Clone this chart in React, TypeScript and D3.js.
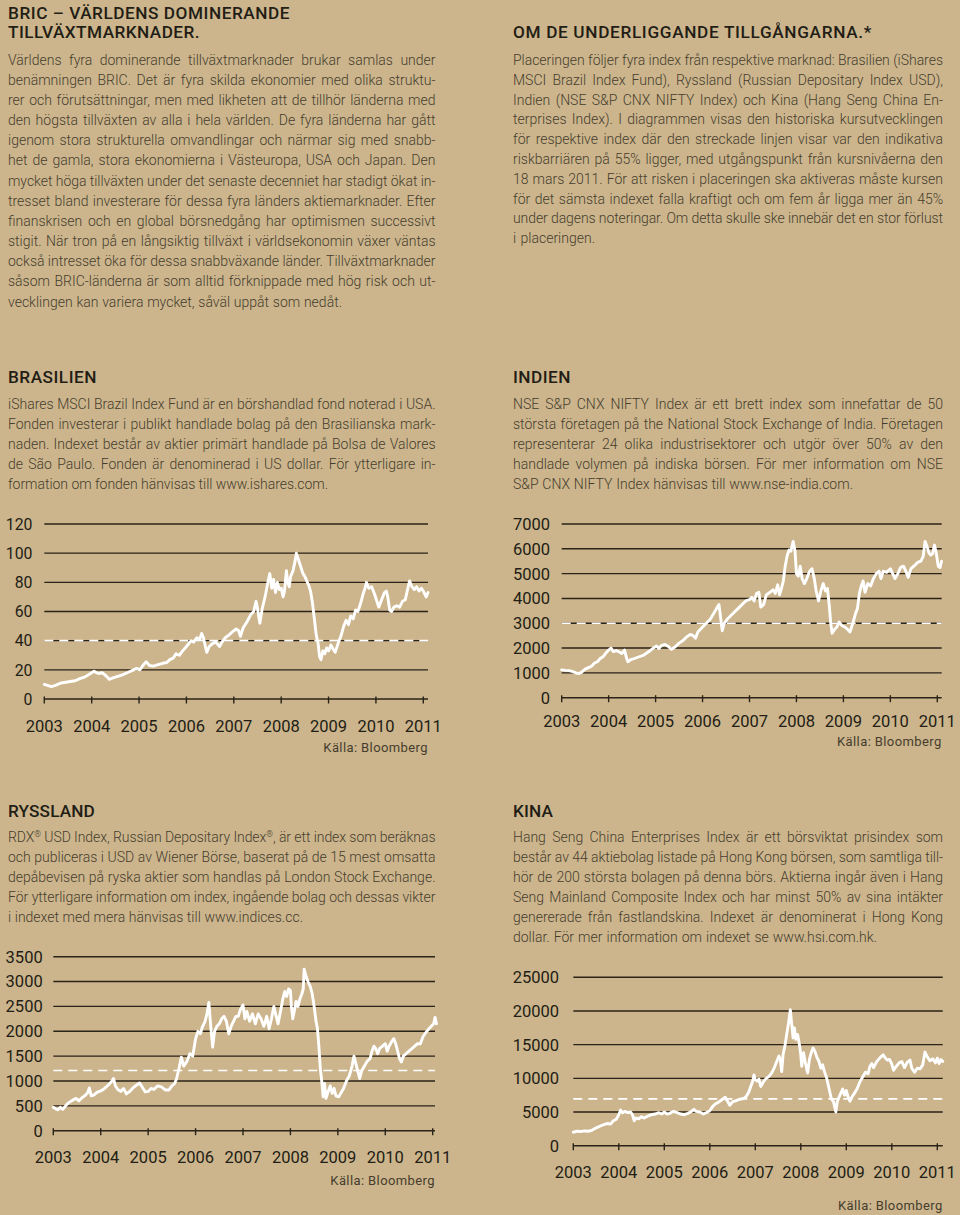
import React from 'react';
import * as d3 from 'd3';

// ---------------- DATA ----------------
const years = [2003, 2004, 2005, 2006, 2007, 2008, 2009, 2010, 2011];
const brazilTicks = [0, 20, 40, 60, 80, 100, 120];
const indiaTicks = [0, 1000, 2000, 3000, 4000, 5000, 6000, 7000];
const russiaTicks = [0, 500, 1000, 1500, 2000, 2500, 3000, 3500];
const chinaTicks = [0, 5000, 10000, 15000, 20000, 25000];
const brazilBarrier = 40;
const indiaBarrier = 3000;
const russiaBarrier = 1210;
const chinaBarrier = 6950;
const sourceLabel = 'Källa: Bloomberg';

const brazilSeries: [number, number][] = [
  [2003.0, 10], [2003.05, 9.5], [2003.1, 9], [2003.15, 8.5], [2003.25, 9.5], [2003.35, 11], [2003.45, 11.5], [2003.55, 12],
  [2003.65, 12.5], [2003.75, 14], [2003.85, 15], [2003.95, 17], [2004.05, 19], [2004.1, 18], [2004.15, 17.5], [2004.22, 18],
  [2004.28, 16.5], [2004.33, 15], [2004.37, 13.5], [2004.45, 14.5], [2004.55, 15.5], [2004.65, 16.5], [2004.75, 18], [2004.85, 19.5],
  [2004.95, 21], [2005.02, 20], [2005.08, 23], [2005.15, 25.5], [2005.22, 23], [2005.3, 22.5], [2005.4, 23.5], [2005.5, 24.5],
  [2005.58, 25], [2005.65, 27], [2005.72, 28], [2005.78, 31], [2005.85, 30], [2005.92, 33], [2006.0, 36], [2006.05, 38],
  [2006.1, 40], [2006.15, 39], [2006.22, 42], [2006.28, 41], [2006.32, 45], [2006.36, 42], [2006.4, 36], [2006.43, 32],
  [2006.48, 36], [2006.55, 38], [2006.62, 39], [2006.7, 36], [2006.75, 39], [2006.82, 42], [2006.9, 44], [2006.97, 46],
  [2007.05, 48], [2007.1, 47], [2007.14, 43], [2007.2, 49], [2007.28, 53], [2007.36, 58], [2007.42, 60], [2007.47, 67],
  [2007.5, 62], [2007.55, 52], [2007.6, 62], [2007.66, 70], [2007.72, 80], [2007.76, 86], [2007.8, 76], [2007.84, 82],
  [2007.88, 73], [2007.92, 80], [2007.96, 75], [2008.0, 76], [2008.04, 70], [2008.07, 74], [2008.11, 88], [2008.14, 80],
  [2008.17, 77], [2008.2, 84], [2008.25, 88], [2008.29, 94], [2008.32, 100], [2008.36, 96], [2008.41, 91], [2008.46, 86],
  [2008.5, 84], [2008.54, 81], [2008.58, 78], [2008.62, 74], [2008.66, 66], [2008.7, 55], [2008.74, 44], [2008.78, 38],
  [2008.81, 29], [2008.84, 27], [2008.88, 33], [2008.92, 31], [2008.96, 35], [2009.0, 33], [2009.05, 37], [2009.1, 34],
  [2009.14, 32], [2009.2, 38], [2009.26, 43], [2009.32, 50], [2009.37, 54], [2009.42, 51], [2009.47, 57], [2009.52, 55],
  [2009.57, 61], [2009.62, 60], [2009.68, 66], [2009.73, 72], [2009.77, 76], [2009.8, 80], [2009.85, 76], [2009.91, 77],
  [2009.97, 72], [2010.02, 67], [2010.06, 63], [2010.12, 68], [2010.18, 73], [2010.22, 74], [2010.25, 70], [2010.29, 61],
  [2010.33, 60], [2010.38, 63], [2010.44, 64], [2010.5, 63], [2010.56, 67], [2010.62, 68], [2010.66, 74], [2010.71, 81],
  [2010.76, 77], [2010.81, 75], [2010.86, 77], [2010.91, 74], [2010.96, 76], [2011.0, 74], [2011.03, 72], [2011.06, 70],
  [2011.1, 73],
];

const indiaSeries: [number, number][] = [
  [2003.0, 1120], [2003.08, 1100], [2003.16, 1090], [2003.24, 1050], [2003.3, 1000], [2003.36, 970], [2003.42, 1020], [2003.5, 1150],
  [2003.58, 1220], [2003.64, 1280], [2003.7, 1400], [2003.76, 1450], [2003.82, 1580], [2003.88, 1650], [2003.94, 1800], [2004.0, 1920],
  [2004.05, 2000], [2004.1, 1850], [2004.16, 1900], [2004.22, 1850], [2004.28, 1780], [2004.34, 1920], [2004.38, 1600], [2004.41, 1450],
  [2004.46, 1520], [2004.55, 1580], [2004.65, 1650], [2004.75, 1720], [2004.85, 1850], [2004.95, 2000], [2005.02, 2080], [2005.07, 1980],
  [2005.12, 2100], [2005.2, 2150], [2005.28, 2050], [2005.34, 1950], [2005.42, 2050], [2005.5, 2200], [2005.58, 2300], [2005.66, 2450],
  [2005.74, 2550], [2005.8, 2500], [2005.85, 2400], [2005.9, 2650], [2006.0, 2850], [2006.08, 3000], [2006.16, 3150], [2006.24, 3400],
  [2006.3, 3600], [2006.35, 3750], [2006.38, 3300], [2006.42, 2700], [2006.46, 3000], [2006.52, 3150], [2006.6, 3300], [2006.68, 3450],
  [2006.76, 3600], [2006.84, 3750], [2006.92, 3900], [2007.0, 3950], [2007.05, 4050], [2007.1, 3900], [2007.15, 4200], [2007.2, 4250],
  [2007.24, 3650], [2007.3, 3750], [2007.36, 4150], [2007.44, 4250], [2007.5, 4350], [2007.55, 4200], [2007.6, 4550], [2007.64, 4150],
  [2007.68, 4400], [2007.72, 4700], [2007.76, 5300], [2007.8, 5700], [2007.84, 5950], [2007.88, 5900], [2007.93, 6300], [2007.97, 5900],
  [2008.0, 5000], [2008.04, 4900], [2008.08, 5300], [2008.12, 4800], [2008.17, 4600], [2008.22, 4800], [2008.28, 5100], [2008.33, 5200],
  [2008.38, 4800], [2008.42, 4300], [2008.47, 3900], [2008.52, 4300], [2008.57, 4600], [2008.62, 4300], [2008.66, 4400], [2008.7, 3700],
  [2008.73, 3000], [2008.76, 2600], [2008.81, 2750], [2008.86, 2850], [2008.91, 3050], [2008.97, 2900], [2009.03, 2850], [2009.09, 2750],
  [2009.14, 2650], [2009.2, 3000], [2009.26, 3400], [2009.3, 3600], [2009.34, 4200], [2009.38, 4500], [2009.42, 4700], [2009.46, 4250],
  [2009.52, 4600], [2009.58, 4500], [2009.64, 4800], [2009.7, 5000], [2009.76, 5100], [2009.8, 4800], [2009.85, 5100], [2009.92, 5050],
  [2010.0, 5200], [2010.05, 5000], [2010.1, 4800], [2010.16, 5000], [2010.22, 5250], [2010.28, 5300], [2010.34, 5050], [2010.38, 4850],
  [2010.44, 5200], [2010.5, 5300], [2010.58, 5450], [2010.65, 5500], [2010.7, 5700], [2010.74, 6300], [2010.78, 6100], [2010.82, 5850],
  [2010.86, 5750], [2010.9, 5800], [2010.94, 6150], [2010.98, 5800], [2011.02, 5300], [2011.06, 5250], [2011.09, 5500],
];

const russiaSeries: [number, number][] = [
  [2003.0, 470], [2003.05, 440], [2003.1, 420], [2003.15, 470], [2003.2, 430], [2003.26, 500], [2003.32, 560], [2003.4, 610],
  [2003.48, 650], [2003.54, 600], [2003.6, 660], [2003.66, 700], [2003.72, 760], [2003.76, 860], [2003.8, 700], [2003.86, 720],
  [2003.92, 770], [2004.0, 800], [2004.08, 850], [2004.16, 920], [2004.22, 980], [2004.27, 1050], [2004.31, 900], [2004.36, 830],
  [2004.42, 790], [2004.48, 850], [2004.54, 740], [2004.6, 780], [2004.68, 860], [2004.76, 920], [2004.82, 960], [2004.88, 870],
  [2004.94, 780], [2005.0, 790], [2005.06, 850], [2005.12, 830], [2005.2, 900], [2005.28, 880], [2005.36, 820], [2005.44, 820],
  [2005.5, 900], [2005.56, 950], [2005.6, 1050], [2005.65, 1250], [2005.7, 1480], [2005.75, 1300], [2005.82, 1400], [2005.88, 1550],
  [2005.94, 1500], [2006.0, 1850], [2006.05, 2000], [2006.1, 1950], [2006.15, 2100], [2006.2, 2200], [2006.24, 2350], [2006.28, 2580],
  [2006.32, 2100], [2006.36, 1680], [2006.4, 2000], [2006.45, 2100], [2006.5, 2150], [2006.55, 2250], [2006.6, 2300], [2006.65, 2200],
  [2006.7, 1950], [2006.75, 2100], [2006.8, 2200], [2006.85, 2300], [2006.9, 2300], [2006.95, 2450], [2007.0, 2530], [2007.04, 2250],
  [2007.08, 2400], [2007.14, 2200], [2007.2, 2350], [2007.26, 2150], [2007.32, 2350], [2007.38, 2250], [2007.44, 2100], [2007.5, 2300],
  [2007.55, 2050], [2007.6, 2250], [2007.65, 2500], [2007.7, 2300], [2007.74, 2150], [2007.8, 2450], [2007.84, 2650], [2007.88, 2800],
  [2007.92, 2700], [2007.96, 2850], [2008.0, 2820], [2008.02, 2500], [2008.05, 2250], [2008.08, 2400], [2008.12, 2600], [2008.16, 2500],
  [2008.2, 2650], [2008.24, 2750], [2008.27, 2850], [2008.29, 3250], [2008.33, 3100], [2008.37, 3000], [2008.42, 2900], [2008.46, 2750],
  [2008.5, 2500], [2008.54, 2200], [2008.57, 2050], [2008.6, 1700], [2008.63, 1250], [2008.66, 1000], [2008.69, 680], [2008.72, 950],
  [2008.75, 650], [2008.8, 800], [2008.84, 900], [2008.88, 750], [2008.92, 850], [2008.96, 700], [2009.02, 680], [2009.06, 750],
  [2009.12, 850], [2009.18, 1000], [2009.24, 1100], [2009.3, 1300], [2009.34, 1500], [2009.38, 1350], [2009.42, 1200], [2009.46, 1050],
  [2009.5, 1200], [2009.56, 1300], [2009.62, 1400], [2009.68, 1450], [2009.72, 1600], [2009.76, 1700], [2009.8, 1650], [2009.84, 1550],
  [2009.88, 1650], [2009.94, 1700], [2010.0, 1750], [2010.04, 1600], [2010.08, 1700], [2010.14, 1800], [2010.18, 1850], [2010.22, 1750],
  [2010.26, 1600], [2010.3, 1450], [2010.34, 1380], [2010.38, 1500], [2010.44, 1550], [2010.5, 1600], [2010.56, 1650], [2010.62, 1700],
  [2010.68, 1750], [2010.74, 1750], [2010.8, 1900], [2010.86, 1980], [2010.92, 2050], [2010.97, 2100], [2011.02, 2150], [2011.05, 2280],
  [2011.08, 2150],
];

const chinaSeries: [number, number][] = [
  [2003.0, 2000], [2003.08, 2150], [2003.16, 2100], [2003.24, 2200], [2003.32, 2150], [2003.4, 2250], [2003.46, 2500], [2003.54, 2750],
  [2003.62, 3000], [2003.7, 3200], [2003.76, 3300], [2003.82, 3200], [2003.88, 3700], [2003.94, 3900], [2004.0, 4600], [2004.04, 5300],
  [2004.08, 4900], [2004.14, 5100], [2004.2, 4900], [2004.26, 5000], [2004.3, 4600], [2004.34, 3700], [2004.38, 4100], [2004.44, 4000],
  [2004.5, 4300], [2004.56, 4100], [2004.64, 4400], [2004.72, 4600], [2004.8, 4700], [2004.88, 4900], [2004.94, 4700], [2005.0, 5000],
  [2005.06, 4700], [2005.12, 4800], [2005.2, 5100], [2005.28, 4900], [2005.36, 4700], [2005.44, 4600], [2005.52, 4800], [2005.6, 5100],
  [2005.65, 5400], [2005.7, 5100], [2005.78, 5000], [2005.86, 4700], [2005.92, 4900], [2006.0, 5200], [2006.06, 5800], [2006.12, 6200],
  [2006.2, 6500], [2006.28, 6900], [2006.34, 7200], [2006.38, 6700], [2006.44, 6000], [2006.5, 6500], [2006.58, 6700], [2006.66, 6900],
  [2006.74, 7000], [2006.8, 7300], [2006.86, 8000], [2006.9, 8800], [2006.94, 9500], [2006.97, 10500], [2007.0, 9800], [2007.04, 9600],
  [2007.08, 9900], [2007.12, 8800], [2007.18, 9500], [2007.24, 10000], [2007.3, 10300], [2007.36, 10800], [2007.42, 11600], [2007.47, 12500],
  [2007.52, 13300], [2007.55, 12800], [2007.58, 11000], [2007.61, 13500], [2007.65, 14800], [2007.69, 16500], [2007.73, 18200], [2007.77, 20200],
  [2007.8, 18000], [2007.83, 16000], [2007.86, 17500], [2007.89, 15800], [2007.93, 16500], [2007.97, 15000], [2008.0, 13500], [2008.02, 11800],
  [2008.06, 13800], [2008.1, 12300], [2008.15, 10800], [2008.19, 12800], [2008.23, 13800], [2008.27, 14500], [2008.31, 14000], [2008.35, 13200],
  [2008.4, 12500], [2008.44, 11500], [2008.48, 12000], [2008.52, 11000], [2008.57, 10000], [2008.62, 8500], [2008.67, 7000], [2008.72, 6500],
  [2008.77, 5000], [2008.8, 6500], [2008.84, 7200], [2008.88, 7800], [2008.92, 8400], [2008.96, 7500], [2009.0, 8200], [2009.04, 7200],
  [2009.08, 6600], [2009.12, 7200], [2009.18, 7800], [2009.24, 8500], [2009.3, 9500], [2009.36, 10200], [2009.42, 10900], [2009.48, 10700],
  [2009.52, 11800], [2009.56, 12200], [2009.6, 11600], [2009.66, 12400], [2009.72, 12900], [2009.78, 13300], [2009.81, 13500], [2009.86, 13000],
  [2009.9, 12700], [2009.95, 12800], [2010.0, 12100], [2010.04, 11200], [2010.1, 11800], [2010.16, 12300], [2010.22, 12500], [2010.28, 11600],
  [2010.34, 12400], [2010.4, 12700], [2010.44, 11500], [2010.5, 10900], [2010.56, 11500], [2010.62, 11400], [2010.68, 12000], [2010.73, 13900],
  [2010.78, 13200], [2010.84, 12600], [2010.9, 12900], [2010.96, 12300], [2011.0, 13000], [2011.04, 12200], [2011.08, 12800], [2011.12, 12500],
];

const introTitle = ['BRIC – VÄRLDENS DOMINERANDE', 'TILLVÄXTMARKNADER.'];
const introLines = [
  'Världens fyra dominerande tillväxtmarknader brukar samlas under',
  'benämningen BRIC. Det är fyra skilda ekonomier med olika struktu-',
  'rer och förutsättningar, men med likheten att de tillhör länderna med',
  'den högsta tillväxten av alla i hela världen. De fyra länderna har gått',
  'igenom stora strukturella omvandlingar och närmar sig med snabb-',
  'het de gamla, stora ekonomierna i Västeuropa, USA och Japan. Den',
  'mycket höga tillväxten under det senaste decenniet har stadigt ökat in-',
  'tresset bland investerare för dessa fyra länders aktiemarknader. Efter',
  'finanskrisen och en global börsnedgång har optimismen successivt',
  'stigit. När tron på en långsiktig tillväxt i världsekonomin växer väntas',
  'också intresset öka för dessa snabbväxande länder. Tillväxtmarknader',
  'såsom BRIC-länderna är som alltid förknippade med hög risk och ut-',
  'vecklingen kan variera mycket, såväl uppåt som nedåt.',
];
const assetsTitle = 'OM DE UNDERLIGGANDE TILLGÅNGARNA.*';
const assetsLines = [
  'Placeringen följer fyra index från respektive marknad: Brasilien (iShares',
  'MSCI Brazil Index Fund), Ryssland (Russian Depositary Index USD),',
  'Indien (NSE S&P CNX NIFTY Index) och Kina (Hang Seng China En-',
  'terprises Index). I diagrammen visas den historiska kursutvecklingen',
  'för respektive index där den streckade linjen visar var den indikativa',
  'riskbarriären på 55% ligger, med utgångspunkt från kursnivåerna den',
  '18 mars 2011. För att risken i placeringen ska aktiveras måste kursen',
  'för det sämsta indexet falla kraftigt och om fem år ligga mer än 45%',
  'under dagens noteringar. Om detta skulle ske innebär det en stor förlust',
  'i placeringen.',
];
const brazilTitle = 'BRASILIEN';
const brazilLines = [
  'iShares MSCI Brazil Index Fund är en börshandlad fond noterad i USA.',
  'Fonden investerar i publikt handlade bolag på den Brasilianska mark-',
  'naden. Indexet består av aktier primärt handlade på Bolsa de Valores',
  'de São Paulo. Fonden är denominerad i US dollar. För ytterligare in-',
  'formation om fonden hänvisas till www.ishares.com.',
];
const indiaTitle = 'INDIEN';
const indiaLines = [
  'NSE S&P CNX NIFTY Index är ett brett index som innefattar de 50',
  'största företagen på the National Stock Exchange of India. Företagen',
  'representerar 24 olika industrisektorer och utgör över 50% av den',
  'handlade volymen på indiska börsen. För mer information om NSE',
  'S&P CNX NIFTY Index hänvisas till www.nse-india.com.',
];
const russiaTitle = 'RYSSLAND';
const russiaLines = [
  'RDX® USD Index, Russian Depositary Index®, är ett index som beräknas',
  'och publiceras i USD av Wiener Börse, baserat på de 15 mest omsatta',
  'depåbevisen på ryska aktier som handlas på London Stock Exchange.',
  'För ytterligare information om index, ingående bolag och dessas vikter',
  'i indexet med mera hänvisas till www.indices.cc.',
];
const chinaTitle = 'KINA';
const chinaLines = [
  'Hang Seng China Enterprises Index är ett börsviktat prisindex som',
  'består av 44 aktiebolag listade på Hong Kong börsen, som samtliga till-',
  'hör de 200 största bolagen på denna börs. Aktierna ingår även i Hang',
  'Seng Mainland Composite Index och har minst 50% av sina intäkter',
  'genererade från fastlandskina. Indexet är denominerat i Hong Kong',
  'dollar. För mer information om indexet se www.hsi.com.hk.',
];

// ---------------- STYLE ----------------
const BG = '#ccb58c';
const INK = '#221d15';
const BODY = '#463d2e';
const GRID = '#2a2318';
const FONT = 'Roboto, "DejaVu Sans", sans-serif';

let measureCtx: CanvasRenderingContext2D | null = null;
function measure(text: string, size: number, weight: number) {
  if (!measureCtx) {
    const c = document.createElement('canvas');
    measureCtx = c.getContext('2d');
  }
  if (!measureCtx) return text.length * size * 0.5;
  measureCtx.font = `${weight} ${size}px Roboto`;
  return measureCtx.measureText(text).width;
}

function renderRuns(text: string) {
  const parts = text.split('®');
  const out: any[] = [];
  parts.forEach((p, i) => {
    out.push(<tspan key={'p' + i}>{p}</tspan>);
    if (i < parts.length - 1)
      out.push(<tspan key={'r' + i} fontSize="0.6em" baselineShift="super">®</tspan>);
  });
  return out;
}

function FitText({ x, y, width, text, size, weight, fill, mode = 'words' }: any) {
  const natural = measure(text, size, weight);
  const spaces = (text.match(/ /g) || []).length;
  let wordSpacing = 0;
  let letterSpacing = 0;
  if (mode === 'words' && width > natural && spaces > 0) wordSpacing = (width - natural) / spaces;
  if (mode === 'letters') letterSpacing = (width - natural) / Math.max(1, text.length - 1);
  return (
    <text
      x={x}
      y={y}
      fontFamily={FONT}
      fontSize={size}
      fontWeight={weight}
      fill={fill}
      style={{ wordSpacing: `${wordSpacing}px`, letterSpacing: `${letterSpacing}px` }}
      textLength={width}
      lengthAdjust="spacing"
    >
      {renderRuns(text)}
    </text>
  );
}

function Block({ x, title, titleY, titleWidths, lines, firstY, width, lastWidth, step = 20 }: any) {
  const titles: string[] = Array.isArray(title) ? title : [title];
  return (
    <g>
      {titles.map((t, i) => (
        <FitText key={'t' + i} x={x} y={titleY + i * 19.2} width={titleWidths[i]} text={t} size={17.2} weight={500} fill={INK} mode="letters" />
      ))}
      {lines.map((l: string, i: number) => (
        <FitText
          key={i}
          x={x}
          y={firstY + i * step}
          width={i === lines.length - 1 ? lastWidth : width}
          text={l}
          size={14}
          weight={300}
          fill={BODY}
        />
      ))}
    </g>
  );
}

function Chart({ series, ticks, barrier, L }: any) {
  const x = d3.scaleLinear().domain([2003, 2011]).range([L.x0, L.x1]);
  const y = d3.scaleLinear().domain([0, ticks[ticks.length - 1]]).range([L.yZero, L.yTop]);
  const line = d3
    .line<[number, number]>()
    .x((d) => x(d[0]))
    .y((d) => y(d[1]));
  return (
    <g>
      {ticks.map((t: number) => (
        <line key={'g' + t} x1={L.x0} x2={L.gridRight} y1={y(t)} y2={y(t)} stroke={GRID} strokeWidth={1.4} />
      ))}
      {years.map((yr) => (
        <line key={'k' + yr} x1={x(yr)} x2={x(yr)} y1={L.yZero - 2.5} y2={L.yZero + 4.5} stroke={GRID} strokeWidth={1.4} />
      ))}
      <line x1={L.x0} x2={L.gridRight} y1={y(barrier)} y2={y(barrier)} stroke="#ffffff" strokeWidth={1.6} strokeDasharray="9 6" />
      <path d={line(series) || ''} fill="none" stroke="#ffffff" strokeWidth={2.9} strokeLinejoin="round" strokeLinecap="round" />
      {ticks.map((t: number) => (
        <text key={'yl' + t} x={L.labelRight} y={y(t)} dy="0.36em" textAnchor="end" fontFamily={FONT} fontSize={L.yFont} fill={INK}>
          {t}
        </text>
      ))}
      {years.map((yr) => (
        <text key={'xl' + yr} x={x(yr)} y={L.xLabelY} textAnchor="middle" fontFamily={FONT} fontSize={16.5} fill={INK}>
          {yr}
        </text>
      ))}
      <text x={L.gridRight} y={L.sourceY} textAnchor="end" fontFamily={FONT} fontSize={13} fill={BODY} letterSpacing={0.4}>
        {sourceLabel}
      </text>
    </g>
  );
}

const layoutBrazil = { x0: 44.3, x1: 423.3, gridRight: 428, yZero: 699, yTop: 524, labelRight: 32.5, yFont: 15.8, xLabelY: 731.5, sourceY: 751.5 };
const layoutIndia = { x0: 561.7, x1: 937.3, gridRight: 941.7, yZero: 697.7, yTop: 524, labelRight: 550, yFont: 16.5, xLabelY: 726.5, sourceY: 745.5 };
const layoutRussia = { x0: 53.3, x1: 432.7, gridRight: 435, yZero: 1130.7, yTop: 956.7, labelRight: 42.7, yFont: 16.5, xLabelY: 1163.3, sourceY: 1185 };
const layoutChina = { x0: 573.3, x1: 937.3, gridRight: 942.7, yZero: 1145.7, yTop: 977.3, labelRight: 559, yFont: 16.5, xLabelY: 1178.3, sourceY: 1210 };

export default function App() {
  return (
    <svg
      width={960}
      height={1215}
      viewBox="0 0 960 1215"
      style={{ position: 'absolute', left: 0, top: 0, display: 'block' }}
    >
      <rect x={0} y={0} width={960} height={1215} fill={BG} />
      <Block x={8} title={introTitle} titleY={18.5} titleWidths={[282, 192]} lines={introLines} firstY={64.5} width={427.5} lastWidth={334} step={20.18} />
      <Block x={513} title={assetsTitle} titleY={38.3} titleWidths={[359]} lines={assetsLines} firstY={65} width={430} lastWidth={82} step={19.8} />
      <Block x={8} title={brazilTitle} titleY={383} titleWidths={[89]} lines={brazilLines} firstY={408.7} width={427.5} lastWidth={320} />
      <Block x={513} title={indiaTitle} titleY={383} titleWidths={[58]} lines={indiaLines} firstY={408.7} width={430} lastWidth={340} />
      <Block x={8} title={russiaTitle} titleY={817} titleWidths={[87]} lines={russiaLines} firstY={841.7} width={427.5} lastWidth={295} />
      <Block x={513} title={chinaTitle} titleY={816.7} titleWidths={[40]} lines={chinaLines} firstY={841.7} width={430} lastWidth={364} />
      <Chart series={brazilSeries} ticks={brazilTicks} barrier={brazilBarrier} L={layoutBrazil} />
      <Chart series={indiaSeries} ticks={indiaTicks} barrier={indiaBarrier} L={layoutIndia} />
      <Chart series={russiaSeries} ticks={russiaTicks} barrier={russiaBarrier} L={layoutRussia} />
      <Chart series={chinaSeries} ticks={chinaTicks} barrier={chinaBarrier} L={layoutChina} />
    </svg>
  );
}
